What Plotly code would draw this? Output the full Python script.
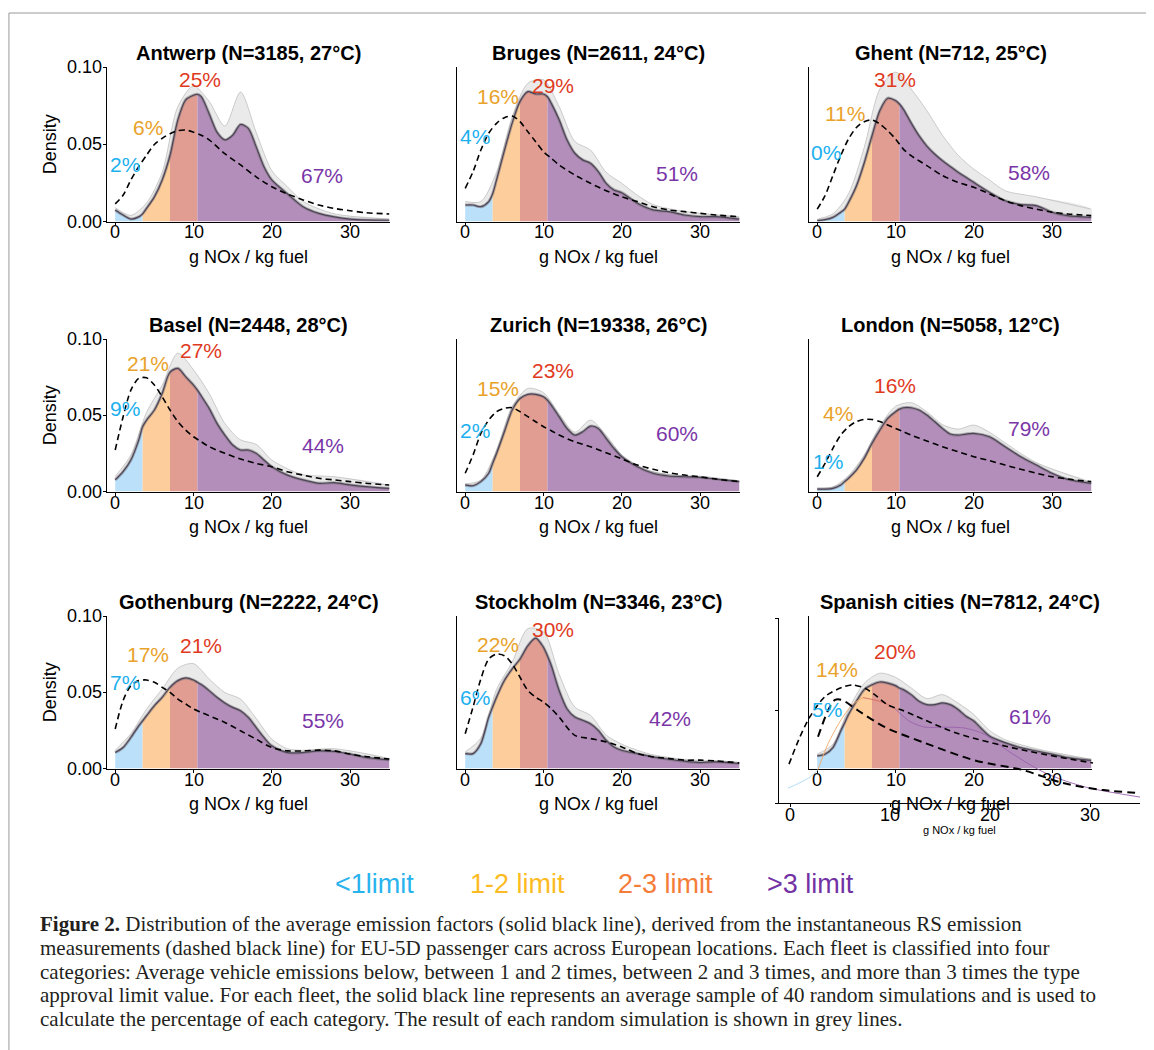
import plotly.graph_objects as go

W, H = 1154, 1050

# ---------------- data ----------------
X = [0, 1, 2, 3, 3.5, 4, 5, 6, 7, 8, 9, 10, 10.5, 11, 12, 13, 14, 15, 16, 17, 18, 19, 20, 22, 24, 26, 28, 30, 32, 35]
XD = [0, 1, 2, 3, 4, 5, 6, 7, 8, 9, 10, 11, 12, 14, 16, 18, 20, 22, 24, 26, 28, 30, 32, 35]
XU = [0, 2, 4, 6, 8, 10, 12, 14, 16, 18, 20, 22, 24, 28, 35]
BOUNDS = [0, 3.5, 7, 10.5, 35]
X_TICKS = [0, 10, 20, 30]
Y_TICKS = [0, 0.05, 0.10]
Y_TICK_TEXT = ["0.00", "0.05", "0.10"]

ANTWERP_MEAN = [0.0075, 0.0042, 0.0016, 0.003, 0.005, 0.0085, 0.016, 0.027, 0.043, 0.066, 0.079, 0.082, 0.0826, 0.081, 0.070, 0.058, 0.053, 0.056, 0.063, 0.0605, 0.0486, 0.0356, 0.027, 0.018, 0.0096, 0.0053, 0.003, 0.0016, 0.001, 0.0008]
BRUGES_MEAN = [0.0107, 0.0107, 0.0096, 0.0129, 0.018, 0.027, 0.046, 0.064, 0.078, 0.0843, 0.0828, 0.0828, 0.081, 0.0767, 0.066, 0.053, 0.0443, 0.040, 0.0378, 0.0324, 0.0248, 0.0205, 0.0187, 0.0118, 0.0075, 0.0064, 0.0042, 0.0031, 0.0031, 0.0016]
GHENT_MEAN = [0.0005, 0.0012, 0.0027, 0.006, 0.008, 0.0124, 0.023, 0.038, 0.0557, 0.072, 0.080, 0.0785, 0.0763, 0.073, 0.064, 0.0557, 0.049, 0.0438, 0.0395, 0.0357, 0.032, 0.0287, 0.0254, 0.019, 0.0135, 0.011, 0.0103, 0.006, 0.0038, 0.0027]
BASEL_MEAN = [0.0076, 0.013, 0.0207, 0.0338, 0.0426, 0.047, 0.0536, 0.0645, 0.0785, 0.081, 0.0755, 0.070, 0.0667, 0.0628, 0.0547, 0.0448, 0.0371, 0.0306, 0.0273, 0.0273, 0.0251, 0.0207, 0.0163, 0.0108, 0.0076, 0.0054, 0.0058, 0.0043, 0.0032, 0.0021]
ZURICH_MEAN = [0.0043, 0.0038, 0.0065, 0.012, 0.0185, 0.025, 0.0393, 0.0536, 0.0612, 0.0639, 0.0639, 0.0623, 0.0601, 0.0568, 0.0492, 0.0415, 0.0371, 0.0393, 0.043, 0.0415, 0.035, 0.0284, 0.0229, 0.0163, 0.012, 0.0102, 0.0097, 0.0093, 0.0082, 0.0065]
LONDON_MEAN = [0.0016, 0.0016, 0.0021, 0.0043, 0.0065, 0.0087, 0.0141, 0.0218, 0.0317, 0.0404, 0.0481, 0.0525, 0.0542, 0.0551, 0.0551, 0.0536, 0.0503, 0.046, 0.0415, 0.0378, 0.0371, 0.0378, 0.0382, 0.036, 0.0295, 0.0229, 0.0174, 0.012, 0.008, 0.0054]
GOTHENBURG_MEAN = [0.0105, 0.0138, 0.0204, 0.0281, 0.0314, 0.0347, 0.0413, 0.0468, 0.0534, 0.0578, 0.0596, 0.0582, 0.0567, 0.0552, 0.0512, 0.0468, 0.0431, 0.0402, 0.038, 0.0336, 0.027, 0.0204, 0.0149, 0.0105, 0.0105, 0.0116, 0.0112, 0.0095, 0.0073, 0.0057]
STOCKHOLM_MEAN = [0.0098, 0.0098, 0.0164, 0.0338, 0.0404, 0.0469, 0.0579, 0.0655, 0.072, 0.0808, 0.0858, 0.0797, 0.0742, 0.0677, 0.0513, 0.0393, 0.0338, 0.0317, 0.0295, 0.0251, 0.0186, 0.0142, 0.012, 0.0098, 0.0076, 0.0061, 0.0048, 0.0039, 0.0044, 0.0033]
SPANISH_MEAN = [0.0083, 0.0094, 0.0137, 0.0246, 0.030, 0.0355, 0.0442, 0.0519, 0.0551, 0.0569, 0.0562, 0.0545, 0.0529, 0.0519, 0.0486, 0.0442, 0.042, 0.042, 0.0431, 0.042, 0.0388, 0.0344, 0.0312, 0.0214, 0.017, 0.0137, 0.0115, 0.0094, 0.0072, 0.0054]

ANTWERP_DASH = [0.0114, 0.017, 0.027, 0.0356, 0.043, 0.050, 0.054, 0.057, 0.059, 0.0594, 0.058, 0.056, 0.053, 0.044, 0.0367, 0.029, 0.0226, 0.0179, 0.014, 0.0107, 0.0085, 0.007, 0.0057, 0.0049]
BRUGES_DASH = [0.0215, 0.0324, 0.0464, 0.0573, 0.0637, 0.0674, 0.0685, 0.0648, 0.0583, 0.0518, 0.0453, 0.041, 0.0367, 0.0302, 0.0248, 0.020, 0.016, 0.0129, 0.0096, 0.0075, 0.0064, 0.0053, 0.0042, 0.0031]
GHENT_DASH = [0.008, 0.0168, 0.0298, 0.0427, 0.0536, 0.061, 0.0648, 0.0659, 0.0633, 0.059, 0.0536, 0.047, 0.0427, 0.0363, 0.0298, 0.0254, 0.0222, 0.0179, 0.0135, 0.0103, 0.008, 0.006, 0.0049, 0.0038]
BASEL_DASH = [0.0273, 0.049, 0.0667, 0.0744, 0.0748, 0.070, 0.0623, 0.0536, 0.0459, 0.0404, 0.036, 0.0327, 0.0295, 0.0251, 0.0214, 0.0185, 0.0163, 0.013, 0.0108, 0.0087, 0.0076, 0.0065, 0.0054, 0.0043]
ZURICH_DASH = [0.012, 0.024, 0.0382, 0.047, 0.0525, 0.0547, 0.0551, 0.0525, 0.0492, 0.0459, 0.0426, 0.040, 0.0371, 0.0327, 0.0295, 0.0255, 0.0214, 0.0174, 0.0146, 0.0124, 0.0108, 0.0097, 0.0082, 0.0065]
LONDON_DASH = [0.0097, 0.0185, 0.0284, 0.0371, 0.0426, 0.046, 0.0474, 0.0474, 0.046, 0.0437, 0.0415, 0.0393, 0.0371, 0.0332, 0.0295, 0.0262, 0.0229, 0.0203, 0.0174, 0.0146, 0.012, 0.0097, 0.0082, 0.0065]
GOTHENBURG_DASH = [0.026, 0.0446, 0.0545, 0.0578, 0.0582, 0.0567, 0.0534, 0.0501, 0.0457, 0.0424, 0.0391, 0.0369, 0.0347, 0.0303, 0.0248, 0.0193, 0.0138, 0.0116, 0.0116, 0.0121, 0.0116, 0.0095, 0.0079, 0.0062]
STOCKHOLM_DASH = [0.0229, 0.0404, 0.059, 0.072, 0.0753, 0.0742, 0.0688, 0.060, 0.0513, 0.0469, 0.0437, 0.0393, 0.0338, 0.0218, 0.0197, 0.0175, 0.0142, 0.0098, 0.0076, 0.0066, 0.0055, 0.0055, 0.005, 0.0037]

ANTWERP_UPPER = [0.009, 0.004, 0.012, 0.032, 0.0746, 0.088, 0.078, 0.062, 0.0840, 0.058, 0.033, 0.0226, 0.013, 0.005, 0.0015]
BRUGES_UPPER = [0.013, 0.013, 0.032, 0.068, 0.0897, 0.092, 0.0746, 0.052, 0.0464, 0.032, 0.0248, 0.017, 0.011, 0.0065, 0.003]
GHENT_UPPER = [0.0015, 0.005, 0.018, 0.048, 0.086, 0.097, 0.086, 0.072, 0.056, 0.043, 0.034, 0.027, 0.020, 0.016, 0.008]
BASEL_UPPER = [0.010, 0.024, 0.052, 0.070, 0.091, 0.080, 0.0645, 0.0448, 0.034, 0.031, 0.0207, 0.015, 0.011, 0.0097, 0.004]
ZURICH_UPPER = [0.005, 0.0075, 0.027, 0.056, 0.0678, 0.065, 0.051, 0.039, 0.047, 0.037, 0.024, 0.017, 0.013, 0.0102, 0.007]
LONDON_UPPER = [0.002, 0.003, 0.0105, 0.024, 0.043, 0.056, 0.0584, 0.0525, 0.044, 0.041, 0.0437, 0.039, 0.032, 0.019, 0.006]
GOTHENBURG_UPPER = [0.012, 0.023, 0.039, 0.0523, 0.066, 0.069, 0.0589, 0.050, 0.0457, 0.033, 0.0193, 0.013, 0.012, 0.013, 0.0065]
STOCKHOLM_UPPER = [0.011, 0.020, 0.052, 0.070, 0.092, 0.090, 0.062, 0.0404, 0.035, 0.022, 0.016, 0.012, 0.009, 0.006, 0.004]
SPANISH_UPPER = [0.0095, 0.016, 0.0388, 0.056, 0.0627, 0.060, 0.053, 0.046, 0.0486, 0.043, 0.0355, 0.025, 0.019, 0.013, 0.006]

CITIES = ["Antwerp", "Bruges", "Ghent", "Basel", "Zurich", "London", "Gothenburg", "Stockholm", "Spanish cities"]
N_OBS = [3185, 2611, 712, 2448, 19338, 5058, 2222, 3346, 7812]
TEMPS = [27, 24, 25, 28, 26, 12, 24, 23, 24]
PCTS = [[2, 6, 25, 67], [4, 16, 29, 51], [0, 11, 31, 58], [9, 21, 27, 44], [2, 15, 23, 60],
        [1, 4, 16, 79], [7, 17, 21, 55], [6, 22, 30, 42], [5, 14, 20, 61]]
MEANS = [ANTWERP_MEAN, BRUGES_MEAN, GHENT_MEAN, BASEL_MEAN, ZURICH_MEAN, LONDON_MEAN, GOTHENBURG_MEAN, STOCKHOLM_MEAN, SPANISH_MEAN]
DASHES = [ANTWERP_DASH, BRUGES_DASH, GHENT_DASH, BASEL_DASH, ZURICH_DASH, LONDON_DASH, GOTHENBURG_DASH, STOCKHOLM_DASH, None]
UPPERS = [ANTWERP_UPPER, BRUGES_UPPER, GHENT_UPPER, BASEL_UPPER, ZURICH_UPPER, LONDON_UPPER, GOTHENBURG_UPPER, STOCKHOLM_UPPER, SPANISH_UPPER]

# misplaced (overlaid) copy in the Spanish panel
SP_GHOST_DASH_A_X = [-0.1, 1.0, 2.0, 3.5, 5.2, 6.3, 7.5, 8.5, 9.8, 11.3, 16.7, 23.3, 30.3]
SP_GHOST_DASH_A_Y = [0.021, 0.0358, 0.0467, 0.0575, 0.0625, 0.0638, 0.062, 0.0584, 0.053, 0.050, 0.0377, 0.0286, 0.0216]
SP_GHOST_DASH_B_X = [2.8, 3.8, 4.5, 5.2, 6.8, 9.5, 13.5, 18.5, 23.3, 27.3, 31.3, 35]
SP_GHOST_DASH_B_Y = [0.0358, 0.050, 0.0557, 0.0557, 0.050, 0.041, 0.0324, 0.023, 0.0178, 0.0108, 0.007, 0.0054]
SP_GHOST_LINE_X = [-0.2, 1, 2, 2.8, 3.8, 5, 6.2, 7.3, 8.2, 9.5, 10.5, 12, 13.5, 15.5, 17.5, 19.5, 21.3, 23.3, 25.3, 27.3, 30, 35]
SP_GHOST_LINE_Y = [0.008, 0.011, 0.014, 0.018, 0.032, 0.044, 0.053, 0.057, 0.056, 0.054, 0.051, 0.044, 0.041, 0.041, 0.0405, 0.037, 0.030, 0.023, 0.0168, 0.0124, 0.008, 0.0032]

# ---------------- styles / layout ----------------
FILL_COLORS = ["rgba(181,222,250,0.93)", "rgba(253,201,148,0.93)", "rgba(224,150,138,0.93)", "rgba(173,133,181,0.93)"]
LABEL_COLORS = ["#1cb0ef", "#e9a22a", "#e03a1e", "#7a35a8"]
GHOST_COLORS = ["#a8d8f6", "#f3a868", "#d46a5e", "#9a62ad"]
LABEL_POS = [
    [(1.24, 0.037), (4.2, 0.061), (10.8, 0.092), (26.4, 0.030)],
    [(1.28, 0.0549), (4.2, 0.081), (11.2, 0.0886), (27.0, 0.0314)],
    [(1.17, 0.045), (3.5, 0.0698), (9.9, 0.0925), (27.1, 0.032)],
    [(1.24, 0.0546), (4.2, 0.084), (11.0, 0.0928), (26.6, 0.0305)],
    [(1.28, 0.0403), (4.25, 0.0677), (11.2, 0.0797), (27.0, 0.038)],
    [(1.38, 0.0195), (2.65, 0.0513), (9.9, 0.0698), (27.1, 0.0414)],
    [(1.24, 0.0566), (4.2, 0.0752), (10.9, 0.0807), (26.6, 0.0314)],
    [(1.28, 0.0469), (4.25, 0.0817), (11.2, 0.0915), (26.1, 0.0327)],
    [(1.2, 0.0388), (2.5, 0.065), (9.9, 0.077), (27.2, 0.0344)],
]
COLS = [(107, 390), (457, 740), (809, 1092)]
ROWS = [(67, 221.5), (339, 491.5), (616, 768.5)]
XR = [-1.05, 35.1]
YR = [0, 0.1003]
OUTER_COLS = (779, 1140)
OUTER_ROWS = (618, 803)
OUTER_XR = [-1.1, 35.0]
OUTER_YR = [0, 0.1]
FONT = "Liberation Sans, Arial, sans-serif"
PAGE_OFFSET = 8  # the html page body margin shifts the figure by 8 px


def fx(p):
    return (p - PAGE_OFFSET) / W


def fy(p):
    return 1 - (p - PAGE_OFFSET) / H


def data_px(v, r, lo, hi):
    return lo + (v - r[0]) / (r[1] - r[0]) * (hi - lo)


fig = go.Figure()
layout = dict(width=W, height=H, autosize=False, margin=dict(l=0, r=0, t=0, b=0, pad=0),
              paper_bgcolor="white", plot_bgcolor="rgba(0,0,0,0)", showlegend=False)
annotations = []


def axis_names(k):
    return ("x" if k == 1 else f"x{k}"), ("y" if k == 1 else f"y{k}")


def paper_text(px, py, text, size, color="black", bold=False, angle=0, xanchor="center", family=FONT):
    return dict(x=fx(px), y=fy(py), xref="paper", yref="paper", showarrow=False,
                xanchor=xanchor, yanchor="middle", textangle=angle,
                text=f"<b>{text}</b>" if bold else text,
                font=dict(family=family, size=size, color=color))


def axis_dict(x0, x1, yn, xr, ticks=True):
    return dict(domain=[fx(x0), fx(x1)], anchor=yn, range=xr, automargin=False,
                showline=True, linecolor="black", linewidth=1, ticks="outside" if ticks else "", ticklen=3,
                tickcolor="black", tickvals=X_TICKS, showticklabels=False, showgrid=False, zeroline=False)


for i in range(9):
    k = i + 1
    r, c = divmod(i, 3)
    xn, yn = axis_names(k)
    x0, x1 = COLS[c]
    y0, y1 = ROWS[r]
    layout["xaxis" if k == 1 else f"xaxis{k}"] = axis_dict(x0, x1, yn, XR)
    layout["yaxis" if k == 1 else f"yaxis{k}"] = dict(
        domain=[fy(y1), fy(y0)], anchor=xn, range=YR, automargin=False,
        showline=True, linecolor="black", linewidth=1,
        ticks="outside" if c == 0 else "", ticklen=3, tickcolor="black",
        tickvals=Y_TICKS, showticklabels=False, showgrid=False, zeroline=False)

    # tick labels as text
    for tv in X_TICKS:
        annotations.append(paper_text(data_px(tv, XR, x0, x1), y1 + 11, str(tv), 18))
    if c == 0:
        for tv, tt in zip(Y_TICKS, Y_TICK_TEXT):
            annotations.append(paper_text(x0 - 3, data_px(tv, YR, y1, y0), tt, 18, xanchor="right"))

    mean = MEANS[i]
    upper = UPPERS[i]
    # grey band of random simulations
    fig.add_trace(go.Scatter(x=XU + X[::-1], y=upper + mean[::-1], xaxis=xn, yaxis=yn,
                             mode="lines", fill="toself", fillcolor="rgba(200,200,200,0.38)",
                             line=dict(width=0, shape="spline", smoothing=0.8), hoverinfo="skip"))
    fig.add_trace(go.Scatter(x=XU, y=upper, xaxis=xn, yaxis=yn, mode="lines",
                             line=dict(color="rgba(170,170,170,0.7)", width=0.8, shape="spline", smoothing=0.8),
                             hoverinfo="skip"))
    # category fills
    for s in range(4):
        a, b = BOUNDS[s], BOUNDS[s + 1]
        sx = [xv for xv in X if a <= xv <= b]
        sy = [yv for xv, yv in zip(X, mean) if a <= xv <= b]
        fig.add_trace(go.Scatter(x=sx, y=sy, xaxis=xn, yaxis=yn, mode="lines", fill="tozeroy",
                                 fillcolor=FILL_COLORS[s], line=dict(width=0, shape="spline", smoothing=0.8),
                                 hoverinfo="skip"))
    # mean (solid) line with grey halo
    fig.add_trace(go.Scatter(x=X, y=mean, xaxis=xn, yaxis=yn, mode="lines",
                             line=dict(color="rgba(110,110,110,0.5)", width=3.0, shape="spline", smoothing=0.8),
                             hoverinfo="skip"))
    fig.add_trace(go.Scatter(x=X, y=mean, xaxis=xn, yaxis=yn, mode="lines",
                             line=dict(color="rgb(78,66,88)", width=1.2, shape="spline", smoothing=0.8),
                             hoverinfo="skip"))
    if DASHES[i] is not None:
        fig.add_trace(go.Scatter(x=XD, y=DASHES[i], xaxis=xn, yaxis=yn, mode="lines",
                                 line=dict(color="black", width=1.6, dash="6px,4px", shape="spline", smoothing=0.8),
                                 hoverinfo="skip"))
    # percentage labels
    for s in range(4):
        lx, ly = LABEL_POS[i][s]
        annotations.append(dict(x=lx, y=ly, xref=xn, yref=yn, text=f"{PCTS[i][s]}%", showarrow=False,
                                xanchor="center", yanchor="middle",
                                font=dict(family=FONT, size=21, color=LABEL_COLORS[s])))
    # panel title
    tcx = (x0 + x1) / 2 if i != 8 else (OUTER_COLS[0] + OUTER_COLS[1]) / 2
    annotations.append(paper_text(tcx, y0 - 14, f"{CITIES[i]} (N={N_OBS[i]}, {TEMPS[i]}°C)", 20, bold=True))
    # x-axis title
    annotations.append(paper_text((x0 + x1) / 2, y1 + 35, "g NOx / kg fuel", 18))
    if c == 0:
        annotations.append(paper_text(50, (y0 + y1) / 2, "Density", 18, angle=-90))

# overlaid misplaced copy in the Spanish panel (drawn on top)
k = 10
xn, yn = axis_names(k)
layout["xaxis10"] = axis_dict(OUTER_COLS[0], OUTER_COLS[1], yn, OUTER_XR)
layout["yaxis10"] = dict(domain=[fy(OUTER_ROWS[1]), fy(OUTER_ROWS[0])], anchor=xn, range=OUTER_YR, automargin=False,
                         showline=True, linecolor="black", linewidth=1, ticks="outside", ticklen=3,
                         tickcolor="black", tickvals=Y_TICKS, showticklabels=False,
                         showgrid=False, zeroline=False)
for tv in X_TICKS:
    annotations.append(paper_text(data_px(tv, OUTER_XR, OUTER_COLS[0], OUTER_COLS[1]), OUTER_ROWS[1] + 12,
                                  str(tv), 18))
seg_idx = [(0, 3), (3, 7), (7, 10), (10, len(SP_GHOST_LINE_X) - 1)]
for s, (a, b) in enumerate(seg_idx):
    fig.add_trace(go.Scatter(x=SP_GHOST_LINE_X[a:b + 1], y=SP_GHOST_LINE_Y[a:b + 1], xaxis=xn, yaxis=yn,
                             mode="lines", line=dict(color=GHOST_COLORS[s], width=0.9, shape="spline", smoothing=0.8),
                             hoverinfo="skip"))
fig.add_trace(go.Scatter(x=SP_GHOST_DASH_A_X, y=SP_GHOST_DASH_A_Y, xaxis=xn, yaxis=yn, mode="lines",
                         line=dict(color="black", width=1.6, dash="6px,4px", shape="spline", smoothing=0.8),
                         hoverinfo="skip"))
fig.add_trace(go.Scatter(x=SP_GHOST_DASH_B_X, y=SP_GHOST_DASH_B_Y, xaxis=xn, yaxis=yn, mode="lines",
                         line=dict(color="black", width=2.0, dash="8px,5px", shape="spline", smoothing=0.8),
                         hoverinfo="skip"))
annotations.append(paper_text(959, 830, "g NOx / kg fuel", 11))

# category legend
LEGEND_TEXT = ["&lt;1limit", "1-2 limit", "2-3 limit", "&gt;3 limit"]
LEGEND_COLORS = ["#29b3ee", "#fcbb22", "#f47d3a", "#7232a4"]
LEGEND_CX = [374, 517, 665, 810]
for t, col, cx in zip(LEGEND_TEXT, LEGEND_COLORS, LEGEND_CX):
    annotations.append(paper_text(cx, 884, t, 27, color=col))

# caption
CAPTION = [
    "<b>Figure 2.</b> Distribution of the average emission factors (solid black line), derived from the instantaneous RS emission",
    "measurements (dashed black line) for EU-5D passenger cars across European locations. Each fleet is classified into four",
    "categories: Average vehicle emissions below, between 1 and 2 times, between 2 and 3 times, and more than 3 times the type",
    "approval limit value. For each fleet, the solid black line represents an average sample of 40 random simulations and is used to",
    "calculate the percentage of each category. The result of each random simulation is shown in grey lines.",
]
for j, line in enumerate(CAPTION):
    annotations.append(paper_text(38, 924 + 23.8 * j, line, 21, color="#231f20", xanchor="left",
                                  family="Liberation Serif, Times New Roman, serif"))

layout["annotations"] = annotations
layout["shapes"] = [
    dict(type="line", xref="paper", yref="paper", x0=0.0008, x1=1, y0=fy(13), y1=fy(13),
         line=dict(color="#9a9a9a", width=1)),
    dict(type="line", xref="paper", yref="paper", x0=0.0008, x1=0.0008, y0=fy(13), y1=0,
         line=dict(color="#9a9a9a", width=1)),
]
fig.update_layout(**layout)
fig.write_html("out.html")
